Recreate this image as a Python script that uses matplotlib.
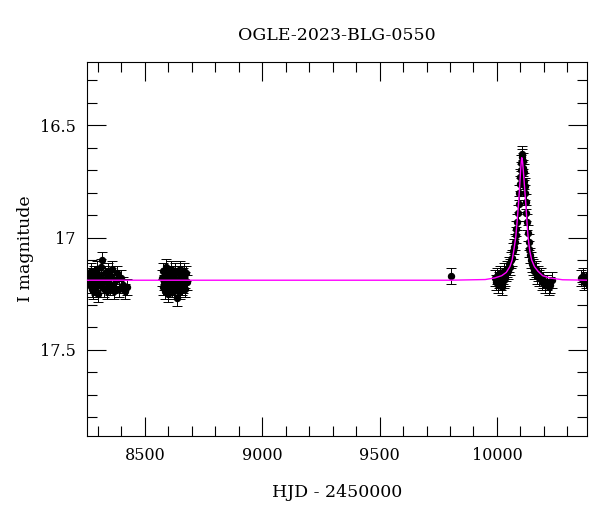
import numpy as np
import matplotlib
matplotlib.use("Agg")
import matplotlib.pyplot as plt
from matplotlib.ticker import MultipleLocator

plt.rcParams['font.family'] = ['DejaVu Serif']

# --- season 2018 ---
t1 = [8262, 8266, 8270, 8273, 8277, 8280, 8284, 8288, 8291, 8295, 8299, 8302,
      8306, 8310, 8314, 8318, 8321, 8325, 8330, 8334, 8338, 8342, 8346, 8350,
      8355, 8360, 8364, 8370, 8376, 8382, 8390, 8398, 8405, 8415, 8425]
m1 = [17.17, 17.21, 17.15, 17.23, 17.19, 17.24, 17.16, 17.20, 17.22, 17.14, 17.18, 17.25,
      17.17, 17.21, 17.13, 17.10, 17.19, 17.23, 17.16, 17.20, 17.24, 17.15, 17.18, 17.22,
      17.17, 17.14, 17.21, 17.24, 17.19, 17.16, 17.23, 17.18, 17.21, 17.24, 17.22]

# --- season 2019 ---
t2 = [8573, 8576, 8579, 8582, 8585, 8588, 8591, 8594, 8597, 8600, 8603, 8606,
      8609, 8612, 8615, 8618, 8621, 8624, 8627, 8630, 8633, 8636, 8639, 8642,
      8645, 8648, 8651, 8654, 8657, 8660, 8663, 8666, 8669, 8672, 8676, 8680]
m2 = [17.18, 17.22, 17.15, 17.20, 17.24, 17.17, 17.13, 17.21, 17.19, 17.25, 17.16, 17.22,
      17.18, 17.14, 17.23, 17.20, 17.17, 17.24, 17.15, 17.21, 17.19, 17.27, 17.22, 17.16,
      17.20, 17.24, 17.14, 17.18, 17.22, 17.17, 17.21, 17.15, 17.19, 17.23, 17.16, 17.20]

# --- lone point + event season + last points ---
t3 = [9805,
      9990, 9995, 10000, 10004, 10008, 10012, 10016, 10020, 10024, 10028, 10032, 10036,
      10040, 10044, 10048, 10052, 10056, 10060, 10064, 10068, 10072, 10076, 10080, 10083,
      10086, 10089, 10092, 10095, 10098, 10100, 10102, 10104, 10106, 10108, 10110, 10112,
      10114, 10116, 10118, 10120, 10123, 10126, 10129, 10132, 10135, 10138, 10142, 10146,
      10150, 10155, 10160, 10165, 10170, 10175, 10180, 10186, 10192, 10198, 10205, 10212,
      10220, 10228, 10236,
      10360, 10366, 10372, 10378]
m3 = [17.17,
      17.18, 17.20, 17.17, 17.21, 17.19, 17.16, 17.20, 17.22, 17.17, 17.19, 17.15, 17.18,
      17.16, 17.14, 17.15, 17.12, 17.13, 17.10, 17.09, 17.06, 17.04, 17.02, 16.99, 16.96,
      16.93, 16.89, 16.85, 16.80, 16.76, 16.73, 16.70, 16.67, 16.64, 16.63, 16.66, 16.69,
      16.71, 16.75, 16.77, 16.80, 16.84, 16.89, 16.93, 16.98, 17.02, 17.05, 17.08, 17.10,
      17.12, 17.13, 17.15, 17.14, 17.17, 17.16, 17.18, 17.17, 17.20, 17.19, 17.21, 17.20,
      17.22, 17.21, 17.19,
      17.18, 17.17, 17.20, 17.19]

# --- model curve ---
t_mod = [8250, 9800, 9950, 9990, 10020, 10040, 10055, 10065, 10073, 10080, 10086,
         10092, 10097, 10101, 10104, 10106, 10109, 10113, 10118, 10123, 10128, 10133,
         10140, 10148, 10160, 10175, 10195, 10225, 10280, 10390]
m_mod = [17.19, 17.19, 17.187, 17.18, 17.17, 17.155, 17.13, 17.10, 17.05, 17.0, 16.93,
         16.85, 16.77, 16.70, 16.66, 16.645, 16.66, 16.71, 16.78, 16.85, 16.93, 17.0,
         17.06, 17.10, 17.13, 17.15, 17.17, 17.18, 17.188, 17.19]

t_all = np.array(t1 + t2 + t3)
m_all = np.array(m1 + m2 + m3)
err = 0.035

fig = plt.figure(figsize=(6, 5.12), dpi=100)
ax = fig.add_axes([0.145, 0.148, 0.833, 0.731])

ax.plot(t_mod, m_mod, color='magenta', lw=1.0, zorder=3)
ax.errorbar(t_all, m_all, yerr=err, fmt='o', ms=4.3, color='black', ecolor='black',
            elinewidth=0.7, capsize=3.5, capthick=0.7, zorder=2)

ax.set_xlim(8253, 10383)
ax.set_ylim(17.884, 16.219)

ax.xaxis.set_major_locator(MultipleLocator(500))
ax.xaxis.set_minor_locator(MultipleLocator(100))
ax.yaxis.set_minor_locator(MultipleLocator(0.1))
ax.set_yticks([16.5, 17, 17.5])
ax.set_yticklabels(['16.5', '17', '17.5'])
ax.tick_params(which='both', direction='in', top=True, right=True, labelsize=11.5)
ax.tick_params(which='major', length=14, width=0.8, pad=8)
ax.tick_params(which='minor', length=7, width=0.8)

ax.set_title('OGLE-2023-BLG-0550', fontsize=12.5, pad=16)
ax.set_xlabel('HJD - 2450000', fontsize=12.5, labelpad=14)
ax.set_ylabel('I magnitude', fontsize=12.5, labelpad=4)

fig.savefig('out.png', dpi=100)
